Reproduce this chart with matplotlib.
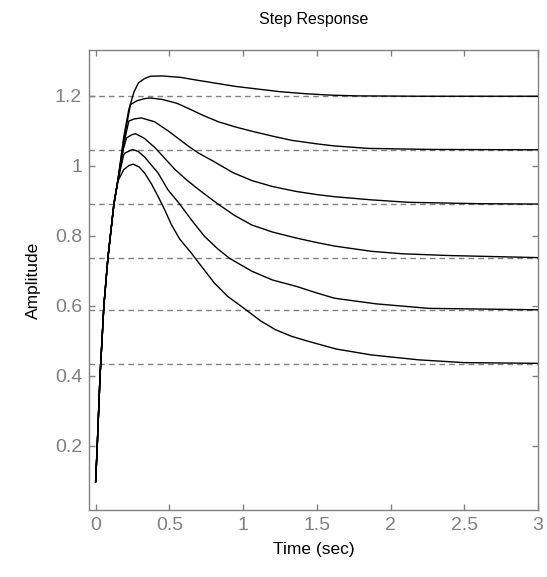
import numpy as np
import matplotlib
matplotlib.use("Agg")
import matplotlib.pyplot as plt
from matplotlib import ticker

plt.rcParams['font.family'] = ['Liberation Sans', 'DejaVu Sans']

# shared initial rise
rise_t = [0.0, 0.01, 0.03, 0.056, 0.083, 0.10, 0.124, 0.15]
rise_y = [0.097, 0.19, 0.40, 0.60, 0.735, 0.80, 0.89, 0.955]

# per-curve tails (time, amplitude)
tail_t1 = [0.19, 0.225, 0.26, 0.29, 0.33, 0.37, 0.45, 0.574, 0.70, 0.833, 0.95, 1.09, 1.25, 1.43, 1.6, 1.77, 2.2, 3.0]
tail_y1 = [1.08, 1.16, 1.21, 1.236, 1.248, 1.255, 1.256, 1.252, 1.243, 1.234, 1.226, 1.219, 1.211, 1.205, 1.201, 1.199, 1.198, 1.198]

tail_t2 = [0.19, 0.236, 0.28, 0.33, 0.37, 0.45, 0.55, 0.63, 0.73, 0.833, 0.95, 1.06, 1.2, 1.33, 1.5, 1.62, 1.85, 2.27, 3.0]
tail_y2 = [1.07, 1.174, 1.185, 1.191, 1.193, 1.189, 1.178, 1.163, 1.143, 1.125, 1.11, 1.098, 1.084, 1.072, 1.062, 1.056, 1.049, 1.046, 1.045]

tail_t3 = [0.19, 0.225, 0.26, 0.31, 0.40, 0.495, 0.63, 0.70, 0.80, 0.93, 1.06, 1.2, 1.36, 1.5, 1.62, 1.87, 2.12, 2.6, 3.0]
tail_y3 = [1.06, 1.127, 1.133, 1.136, 1.125, 1.098, 1.055, 1.035, 1.012, 0.98, 0.957, 0.94, 0.926, 0.917, 0.911, 0.902, 0.895, 0.891, 0.89]

tail_t4 = [0.19, 0.21, 0.24, 0.27, 0.33, 0.405, 0.47, 0.54, 0.62, 0.70, 0.82, 0.94, 1.06, 1.2, 1.36, 1.5, 1.62, 1.87, 2.08, 2.39, 3.0]
tail_y4 = [1.05, 1.079, 1.087, 1.091, 1.078, 1.05, 1.02, 0.988, 0.958, 0.931, 0.893, 0.858, 0.83, 0.81, 0.793, 0.78, 0.77, 0.755, 0.748, 0.743, 0.737]

tail_t5 = [0.19, 0.20, 0.25, 0.29, 0.333, 0.423, 0.49, 0.57, 0.649, 0.738, 0.828, 0.908, 1.06, 1.2, 1.36, 1.5, 1.62, 1.90, 2.26, 3.0]
tail_y5 = [1.03, 1.036, 1.046, 1.04, 1.024, 0.979, 0.931, 0.89, 0.845, 0.798, 0.762, 0.735, 0.698, 0.673, 0.655, 0.636, 0.621, 0.605, 0.592, 0.588]

tail_t6 = [0.19, 0.225, 0.254, 0.295, 0.333, 0.378, 0.423, 0.468, 0.513, 0.57, 0.649, 0.727, 0.806, 0.896, 0.997, 1.12, 1.22, 1.33, 1.45, 1.63, 1.87, 2.19, 2.5, 3.0]
tail_y6 = [0.988, 1.0, 1.004, 0.996, 0.978, 0.948, 0.912, 0.874, 0.832, 0.79, 0.75, 0.707, 0.664, 0.626, 0.595, 0.556, 0.531, 0.512, 0.497, 0.476, 0.459, 0.445, 0.437, 0.435]

steady = [1.198, 1.045, 0.89, 0.735, 0.588, 0.434]

tails = [(tail_t1, tail_y1), (tail_t2, tail_y2), (tail_t3, tail_y3),
         (tail_t4, tail_y4), (tail_t5, tail_y5), (tail_t6, tail_y6)]

gray = '#808080'

fig = plt.figure(figsize=(5.47, 5.77), dpi=100)
ax = fig.add_axes([0.1627, 0.1161, 0.8208, 0.7972])

for ss in steady:
    ax.axhline(ss, color=gray, lw=1.0, dashes=(4, 3))

for tt, yy in tails:
    ax.plot(rise_t + tt, rise_y + yy, color='black', lw=1.0)

ax.set_xlim(-0.045, 3.0)
ax.set_ylim(0.016, 1.33)
ax.xaxis.set_major_locator(ticker.MultipleLocator(0.5))
ax.yaxis.set_major_locator(ticker.FixedLocator([0.2, 0.4, 0.6, 0.8, 1.0, 1.2]))
ax.xaxis.set_major_formatter(ticker.FormatStrFormatter('%g'))
ax.yaxis.set_major_formatter(ticker.FormatStrFormatter('%g'))

ax.tick_params(direction='in', length=4, width=1, color=gray, labelcolor=gray,
               labelsize=14, top=True, right=True, pad=5)
for sp in ax.spines.values():
    sp.set_color(gray)
    sp.set_linewidth(1.0)

ax.set_title('Step Response', fontsize=11.5, pad=19)
ax.set_xlabel('Time (sec)', fontsize=12.5, labelpad=6)
ax.set_ylabel('Amplitude', fontsize=12.5, labelpad=10)

fig.savefig('out.png', dpi=100)
